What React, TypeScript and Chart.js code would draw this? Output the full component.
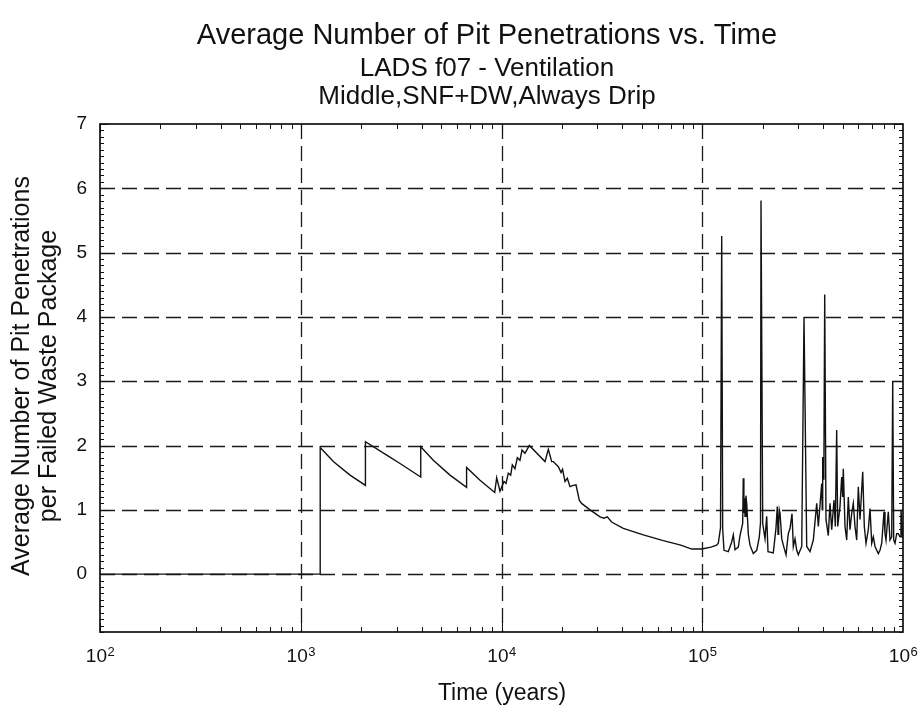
import React, { useEffect, useRef } from "react";
import { Chart, registerables } from "chart.js";

Chart.register(...registerables);

// ---- Data (time in years, average pit penetrations per failed package) ----
const years: number[] = [
  100, 1250, 1250, 1453, 1760, 2100, 2100, 2681, 3122, 3960,
  3960, 4574, 5539, 6700, 6700, 7816, 9250,
  9465, 9829, 10290, 10530, 10810, 11110, 11320, 11670, 11990, 12360,
  12650, 13090, 13760, 16470, 17110, 17790, 18100, 19200, 19800, 20140,
  20720, 21270, 21940, 22790, 23500, 24410, 25060, 27600, 30950, 32400,
  33650, 35350, 40440, 45350, 50860, 63970, 78160, 88610, 99380, 110400,
  118000, 120200, 123300, 125000, 126400, 128300, 134800, 140200, 142800, 145600,
  151200, 154200, 159000, 160100, 161200, 162400, 163300, 165000, 166500, 169600, 172900, 179600,
  186800, 192400, 195100, 196200, 200100, 205400, 209400, 212600, 225900, 233000,
  236500, 238500, 240300, 242000, 244000, 248800, 253400, 261400, 268300, 273600, 280000, 284200,
  289800, 295500, 301000, 313000, 321300, 331400, 344200, 357500, 371700, 378600,
  393600, 396000, 398100, 400900, 403500, 407400, 413400, 424500, 432900, 441400, 453200, 460100,
  467400, 472800, 485500, 495000, 500800, 504200, 514200, 524400, 534000, 544500,
  555300, 565500, 576700, 588100, 598900, 610700, 630000, 641600, 654300, 671700,
  685000, 698500, 711500, 725400, 753400, 768100, 783300, 804300, 813400, 822800,
  844900, 861400, 878500, 888700, 898900, 912300, 930400, 947700, 966400, 977200,
  996600,
];

const pits: number[] = [
  0, 0, 1.97, 1.75, 1.54, 1.38, 2.06, 1.85, 1.72, 1.51,
  1.98, 1.77, 1.54, 1.35, 1.66, 1.46, 1.27,
  1.5, 1.29, 1.44, 1.41, 1.57, 1.54, 1.7, 1.64, 1.81, 1.77,
  1.93, 1.88, 2.0, 1.75, 1.94, 1.75, 1.75, 1.67, 1.58, 1.63,
  1.44, 1.49, 1.36, 1.38, 1.39, 1.15, 1.1, 1.0, 0.89, 0.87,
  0.89, 0.81, 0.71, 0.66, 0.61, 0.52, 0.45, 0.39, 0.39, 0.42,
  0.45, 0.48, 0.72, 5.26, 0.71, 0.37, 0.35, 0.5, 0.61, 0.38,
  0.42, 0.6, 0.79, 1.49, 0.95, 1.18, 0.9, 1.22, 1.1, 0.62, 0.45, 0.32,
  0.37, 0.58, 0.8, 5.81, 0.79, 0.55, 0.9, 0.35, 0.33, 0.72,
  1.05, 0.62, 0.79, 1.0, 0.95, 0.55, 0.45, 0.3, 0.63, 0.71, 0.94, 0.43,
  0.55, 0.37, 0.3, 0.43, 4.0, 0.43, 0.35, 0.53, 1.1, 0.74,
  1.41, 1.0, 1.82, 1.48, 1.6, 4.35, 0.85, 0.6, 1.1, 0.69, 1.15, 0.74,
  2.24, 0.74, 1.05, 1.51, 1.2, 1.64, 0.74, 0.53, 1.2, 0.69,
  0.95, 1.1, 0.74, 0.53, 1.36, 0.85, 1.59, 0.74, 0.48, 0.69,
  1.02, 0.48, 0.58, 0.43, 0.32, 0.37, 0.48, 0.97, 0.63, 0.53,
  0.97, 0.53, 0.58, 3.0, 0.53, 0.48, 0.63, 0.63, 0.58, 1.0,
  0.55,
];

const titleLines: string[] = [
  "Average Number of Pit Penetrations vs. Time",
  "LADS f07 - Ventilation",
  "Middle,SNF+DW,Always Drip",
];
const yTitleLines: string[] = [
  "Average Number of Pit Penetrations",
  "per Failed Waste Package",
];
const xTitle = "Time (years)";
const yTickValues: number[] = [0, 1, 2, 3, 4, 5, 6, 7];
const yGridValues: number[] = [0, 1, 2, 3, 4, 5, 6];
const xDecadeExponents: number[] = [2, 3, 4, 5, 6];
const xGridDecades: number[] = [1e3, 1e4, 1e5];
const yMin = -0.9;
const yMax = 7;

const FONT = "'Liberation Sans', Arial, Helvetica, sans-serif";
const INK = "#111";

const framePlugin = {
  id: "framePlugin",
  beforeDatasetsDraw(chart: any) {
    const { ctx, chartArea: a, scales } = chart;
    const xs = scales.x, ys = scales.y;
    ctx.save();
    ctx.strokeStyle = "#1a1a1a";
    ctx.lineWidth = 1.3;
    ctx.setLineDash([15, 7]);
    for (const v of yGridValues) {
      const y = Math.round(ys.getPixelForValue(v)) + 0.5;
      ctx.beginPath();
      ctx.moveTo(a.left, y);
      ctx.lineTo(a.right, y);
      ctx.stroke();
    }
    for (const v of xGridDecades) {
      const x = Math.round(xs.getPixelForValue(v)) + 0.5;
      ctx.beginPath();
      ctx.moveTo(x, a.top);
      ctx.lineTo(x, a.bottom);
      ctx.stroke();
    }
    ctx.restore();
  },
  afterDatasetsDraw(chart: any) {
    const { ctx, chartArea: a, scales } = chart;
    const xs = scales.x, ys = scales.y;
    ctx.save();
    ctx.strokeStyle = INK;
    ctx.lineWidth = 1;
    ctx.setLineDash([]);
    for (let i = -9; i <= 70; i++) {
      const v = i / 10;
      const y = Math.round(ys.getPixelForValue(v)) + 0.5;
      const len = i % 10 === 0 ? 8 : 4;
      ctx.beginPath();
      ctx.moveTo(a.left, y);
      ctx.lineTo(a.left + len, y);
      ctx.moveTo(a.right, y);
      ctx.lineTo(a.right - len, y);
      ctx.stroke();
    }
    for (let e = 2; e <= 5; e++) {
      for (let k = 1; k <= 9; k++) {
        const v = k * Math.pow(10, e);
        const x = Math.round(xs.getPixelForValue(v)) + 0.5;
        const len = k === 1 ? 9 : 5;
        ctx.beginPath();
        ctx.moveTo(x, a.bottom);
        ctx.lineTo(x, a.bottom - len);
        ctx.moveTo(x, a.top);
        ctx.lineTo(x, a.top + len);
        ctx.stroke();
      }
    }
    ctx.lineWidth = 1.7;
    ctx.strokeRect(a.left, a.top, a.right - a.left, a.bottom - a.top);
    ctx.restore();
  },
  afterDraw(chart: any) {
    const { ctx, chartArea: a, scales } = chart;
    const xs = scales.x;
    ctx.save();
    ctx.fillStyle = INK;
    ctx.textAlign = "center";
    ctx.textBaseline = "alphabetic";
    const tcx = 487;
    ctx.font = `29px ${FONT}`;
    ctx.fillText(titleLines[0], tcx, 44);
    ctx.font = `26px ${FONT}`;
    ctx.fillText(titleLines[1], tcx, 76);
    ctx.fillText(titleLines[2], tcx, 104);
    for (const e of xDecadeExponents) {
      const x = xs.getPixelForValue(Math.pow(10, e));
      ctx.font = `19px ${FONT}`;
      const wb = ctx.measureText("10").width;
      ctx.font = `13px ${FONT}`;
      const we = ctx.measureText(String(e)).width;
      const left = x - (wb + we) / 2;
      ctx.textAlign = "left";
      ctx.font = `19px ${FONT}`;
      ctx.fillText("10", left, a.bottom + 30);
      ctx.font = `13px ${FONT}`;
      ctx.fillText(String(e), left + wb + 0.5, a.bottom + 24);
    }
    ctx.textAlign = "center";
    ctx.font = `23px ${FONT}`;
    ctx.fillText(xTitle, 502, 700);
    ctx.translate(0, 376);
    ctx.rotate(-Math.PI / 2);
    ctx.font = `25px ${FONT}`;
    ctx.textBaseline = "middle";
    ctx.fillText(yTitleLines[0], 0, 22);
    ctx.fillText(yTitleLines[1], 0, 49);
    ctx.restore();
  },
};

export default function App() {
  const ref = useRef<HTMLCanvasElement | null>(null);
  useEffect(() => {
    if (!ref.current) return;
    const points = years.map((x, i) => ({ x, y: pits[i] }));
    const chart = new Chart(ref.current, {
      type: "line",
      data: {
        datasets: [
          {
            data: points,
            borderColor: INK,
            borderWidth: 1.4,
            pointRadius: 0,
            tension: 0,
            fill: false,
          },
        ],
      },
      options: {
        animation: false,
        responsive: false,
        events: [],
        layout: { padding: { top: 124, right: 18, left: 0, bottom: 0 } },
        plugins: {
          legend: { display: false },
          tooltip: { enabled: false },
          title: { display: false },
        },
        scales: {
          x: {
            type: "logarithmic",
            min: 100,
            max: 1e6,
            grid: { display: false },
            border: { display: false },
            ticks: { display: false },
            afterFit: (s: any) => {
              s.height = 79;
            },
          },
          y: {
            type: "linear",
            min: yMin,
            max: yMax,
            grid: { display: false, drawTicks: false },
            border: { display: false },
            afterBuildTicks: (s: any) => {
              s.ticks = yTickValues.map((v) => ({ value: v }));
            },
            ticks: {
              color: INK,
              padding: 13,
              font: { family: FONT, size: 19 },
              callback: (v: any) => String(v),
            },
            afterFit: (s: any) => {
              s.width = 100;
            },
          },
        },
      } as any,
      plugins: [framePlugin],
    });
    return () => chart.destroy();
  }, []);
  return (
    <div style={{ position: "fixed", left: 0, top: 0, width: 921, height: 711 }}>
      <canvas ref={ref} width={921} height={711} style={{ display: "block" }} />
    </div>
  );
}
